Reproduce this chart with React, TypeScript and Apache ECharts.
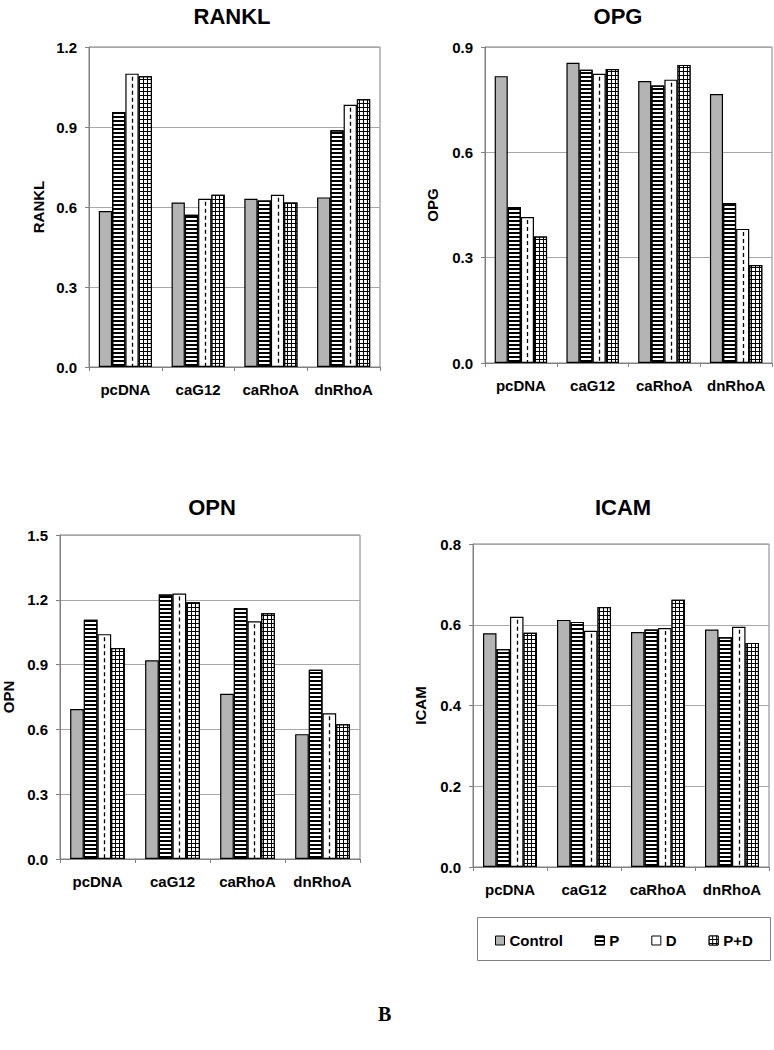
import React, { useEffect, useRef } from "react";
import * as echarts from "echarts";

const categories = ["pcDNA", "caG12", "caRhoA", "dnRhoA"];
const seriesNames = ["Control", "P", "D", "P+D"];

const ranklControl = [0.585, 0.617, 0.631, 0.636];
const ranklP = [0.956, 0.571, 0.624, 0.888];
const ranklD = [1.10, 0.631, 0.646, 0.983];
const ranklPD = [1.09, 0.646, 0.617, 1.004];

const opgControl = [0.817, 0.855, 0.803, 0.766];
const opgP = [0.444, 0.835, 0.79, 0.456];
const opgD = [0.416, 0.824, 0.807, 0.382];
const opgPD = [0.36, 0.837, 0.849, 0.279];

const opnControl = [0.694, 0.92, 0.765, 0.578];
const opnP = [1.108, 1.224, 1.161, 0.876];
const opnD = [1.041, 1.229, 1.101, 0.675];
const opnPD = [0.977, 1.189, 1.138, 0.624];

const icamControl = [0.579, 0.612, 0.582, 0.588];
const icamP = [0.54, 0.607, 0.588, 0.569];
const icamD = [0.62, 0.585, 0.592, 0.595];
const icamPD = [0.58, 0.644, 0.662, 0.555];

const ranklTicks = { min: 0, max: 1.2, interval: 0.3 };
const opgTicks = { min: 0, max: 0.9, interval: 0.3 };
const opnTicks = { min: 0, max: 1.5, interval: 0.3 };
const icamTicks = { min: 0, max: 0.8, interval: 0.2 };

const FONT = "'Liberation Sans', Arial, sans-serif";
const GAP = 0.27;

const panels = [
  { name: "RANKL", data: [ranklControl, ranklP, ranklD, ranklPD], ticks: ranklTicks,
    grid: { left: 89, top: 47, width: 291, height: 320 }, title: [227, 0], nameGap: 43 },
  { name: "OPG", data: [opgControl, opgP, opgD, opgPD], ticks: opgTicks,
    grid: { left: 485, top: 47, width: 287, height: 316 }, title: [613, 0], nameGap: 45 },
  { name: "OPN", data: [opnControl, opnP, opnD, opnPD], ticks: opnTicks,
    grid: { left: 58, top: 535, width: 302, height: 324 }, title: [207, 491], nameGap: 44 },
  { name: "ICAM", data: [icamControl, icamP, icamD, icamPD], ticks: icamTicks,
    grid: { left: 473, top: 544, width: 296, height: 323 }, title: [618, 491], nameGap: 45 },
];

const styles = [
  { color: "#b4b4b4", borderColor: "#000", borderWidth: 1.2 },
  { color: "#fff", borderColor: "#000", borderWidth: 1.2,
    decal: { symbol: "rect", color: "#000", backgroundColor: "#fff", dashArrayX: [1, 0], dashArrayY: [2, 2], symbolSize: 1, rotation: 0 } },
  { color: "#fff", borderColor: "#000", borderWidth: 1.2 },
  { color: "#000", borderColor: "#000", borderWidth: 1.2,
    decal: { symbol: "rect", color: "#fff", backgroundColor: "#000", dashArrayX: [3, 1], dashArrayY: [3, 1], symbolSize: 1, rotation: 0 } },
];

export default function App() {
  const ref = useRef<HTMLDivElement>(null);
  useEffect(() => {
    if (!ref.current) return;
    const chart = echarts.init(ref.current, null, { renderer: "svg" });
    const grids: any[] = [];
    const xAxes: any[] = [];
    const yAxes: any[] = [];
    const series: any[] = [];
    const titles: any[] = [];
    panels.forEach((p, gi) => {
      grids.push({ ...p.grid, show: true, borderColor: "#808080", borderWidth: 1, backgroundColor: "#fff" });
      titles.push({
        text: p.name, left: p.title[0], top: p.title[1], textAlign: "center",
        textStyle: { fontFamily: FONT, fontWeight: "bold", fontSize: 22, color: "#000" },
      });
      xAxes.push({
        type: "category", gridIndex: gi, data: categories,
        axisLine: { lineStyle: { color: "#808080" } },
        axisTick: { show: true, alignWithLabel: false, length: 4, lineStyle: { color: "#808080" } },
        axisLabel: { interval: 0, hideOverlap: false, fontFamily: FONT, fontWeight: "bold", fontSize: 15, color: "#000", margin: 15 },
      });
      yAxes.push({
        type: "value", gridIndex: gi, min: p.ticks.min, max: p.ticks.max, interval: p.ticks.interval,
        name: p.name, nameLocation: "middle", nameGap: p.nameGap,
        nameTextStyle: { fontFamily: FONT, fontWeight: "bold", fontSize: 15, color: "#000" },
        axisLine: { show: true, lineStyle: { color: "#808080" } },
        axisTick: { show: true, length: 4, lineStyle: { color: "#808080" } },
        axisLabel: { fontFamily: FONT, fontWeight: "bold", fontSize: 15, color: "#000", margin: 12,
          formatter: (v: number) => v.toFixed(1) },
        splitLine: { show: true, lineStyle: { color: "#a8a8a8", width: 1 } },
      });
      p.data.forEach((arr, si) => {
        series.push({
          type: "bar", name: seriesNames[si], xAxisIndex: gi, yAxisIndex: gi,
          data: arr, barGap: "0%", barCategoryGap: GAP * 100 + "%",
          itemStyle: styles[si],
        });
      });
      const dArr = p.data[2];
      series.push({
        type: "custom", xAxisIndex: gi, yAxisIndex: gi, silent: true, z: 5,
        data: dArr.map((v, i) => [i, v]),
        renderItem: (params: any, api: any) => {
          const idx = api.value(0);
          const v = api.value(1);
          const base = api.coord([idx, 0]);
          const top = api.coord([idx, v]);
          const band = api.size([1, 0])[0];
          const total = band * (1 - GAP);
          const bw = total / 4;
          const x = Math.round(base[0] - total / 2 + 2.5 * bw) + 0.5;
          return {
            type: "line",
            shape: { x1: x, y1: top[1] + 3, x2: x, y2: base[1] },
            style: { stroke: "#000", lineWidth: 1.3, lineDash: [4, 3] },
          };
        },
      });
    });
    chart.setOption({
      animation: false,
      backgroundColor: "#fff",
      title: titles,
      grid: grids,
      xAxis: xAxes,
      yAxis: yAxes,
      series,
      legend: {
        data: seriesNames, left: 490, top: 928, itemGap: 32, itemWidth: 9, itemHeight: 9, icon: "rect",
        textStyle: { fontFamily: FONT, fontWeight: "bold", fontSize: 15, color: "#000" },
        itemStyle: { borderColor: "#000", borderWidth: 1 },
      },
      graphic: [
        { type: "rect", left: 475, top: 915, shape: { width: 293, height: 43 },
          style: { fill: "none", stroke: "#808080", lineWidth: 1 }, z: -1 },
        { type: "text", left: 378, top: 1004,
          style: { text: "B", font: "bold 20px 'Liberation Serif', 'Times New Roman', serif", fill: "#000" } },
      ],
    });
    return () => chart.dispose();
  }, []);
  return <div ref={ref} style={{ position: "absolute", left: 0, top: 0, width: 774, height: 1050 }} />;
}
